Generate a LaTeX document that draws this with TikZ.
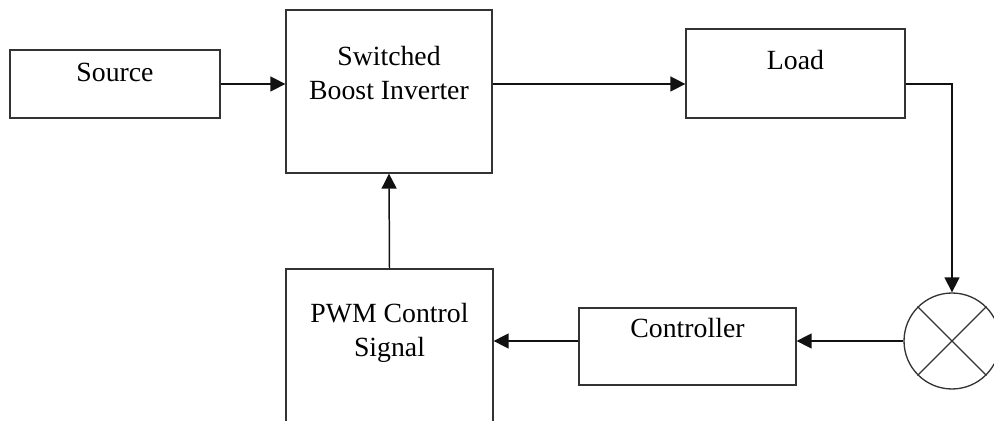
\documentclass[tikz,border=0pt]{standalone}
\usepackage{fontspec}
\setmainfont{Liberation Serif}
\usetikzlibrary{arrows.meta,positioning,calc}
\definecolor{ink}{HTML}{333333}
\definecolor{arrink}{HTML}{111111}
\tikzset{
  block/.style={draw=ink,line width=0.75pt,inner sep=0pt},
  blocktext/.style={align=center,inner sep=0pt,
                    font=\fontsize{15.8}{19.4}\selectfont},
  sumjunc/.style={circle,draw=ink,line width=0.75pt,minimum size=1.92cm,
                  inner sep=0pt},
  sigarr/.style={-{Triangle[length=3mm,width=3mm]},line width=0.85pt,
                 draw=arrink}
}

\begin{document}
\begin{tikzpicture}[x=0.02cm,y=-0.02cm]
    \useasboundingbox (0,0) rectangle (994,421);
    \clip (0,0) rectangle (994,421);

    % blocks
    \node[block,minimum width=4.20cm,minimum height=1.36cm] (source) at (115,84) {};
    \node[block,minimum width=4.12cm,minimum height=3.26cm] (sbi) at (389,91.5) {};
    \node[block,minimum width=4.38cm,minimum height=1.78cm] (load) at (795.5,73.5) {};
    \node[block,minimum width=4.34cm,minimum height=1.54cm] (ctrl) at (687.5,346.5) {};
    \node[block,minimum width=4.14cm,minimum height=3.42cm] (pwm) at (389.5,354.5) {};
    \node[sumjunc] (mult) at (952,341) {};
    \draw[ink,line width=0.75pt] (mult.north west) -- (mult.south east)
      (mult.north east) -- (mult.south west);

    % texts (base = last line)
    \node[blocktext,anchor=base] (sourcetxt) at (115,82) {Source};
    \node[blocktext,anchor=base] (sbitxt) at (389,100) {Switched\\Boost Inverter};
    \node[blocktext,anchor=base] (loadtxt) at (795.5,70) {Load};
    \node[blocktext,anchor=base] (ctrltxt) at (687.5,338) {Controller};
    \node[blocktext,anchor=base] (pwmtxt) at (389.5,357) {PWM Control\\Signal};

    % signal path
    \draw[sigarr] (source.east) -- (source.east -| sbi.west);
    \draw[sigarr] (sbi.east |- source.east) -- (load.west |- source.east);
    \draw[sigarr] (load.east |- source.east) -| (mult.north);
    \draw[sigarr] (mult.west) -- (ctrl.east |- mult.west);
    \draw[sigarr] (ctrl.west |- mult.west) -- (pwm.east |- mult.west);
    \draw[sigarr] (pwm.north) -- (sbi.south);
  \end{tikzpicture}
\end{document}
